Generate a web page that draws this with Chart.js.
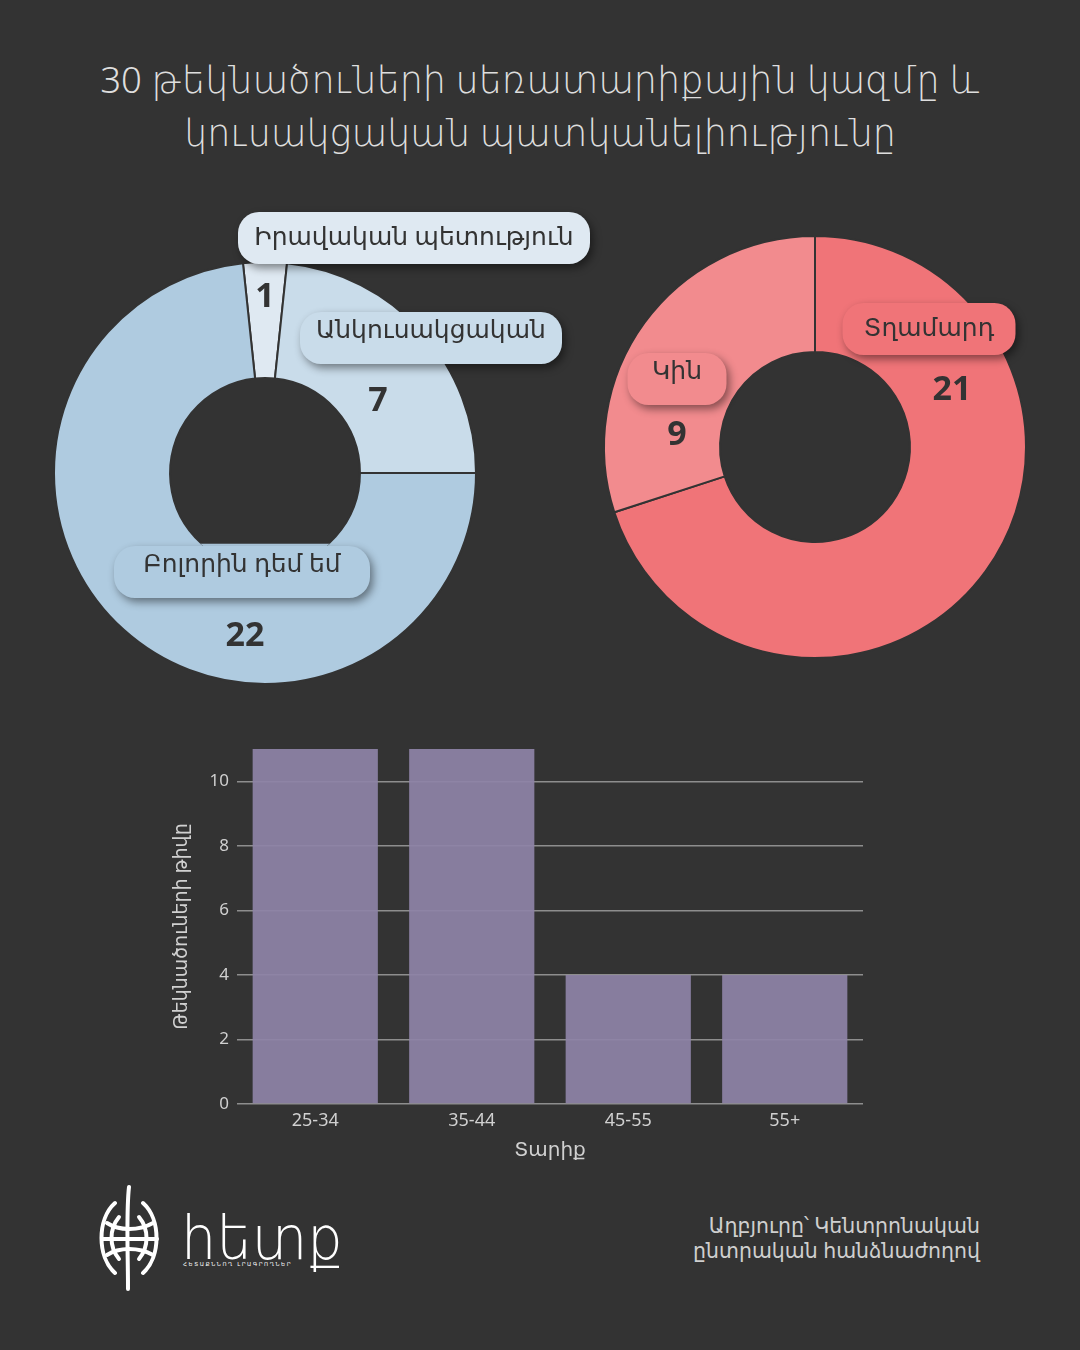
<!DOCTYPE html>
<html><head><meta charset="utf-8">
<script src="https://cdn.jsdelivr.net/npm/chart.js@4.4.1/dist/chart.umd.min.js"></script>
<style>
html,body{margin:0;padding:0;background:#333333;}
body{width:1080px;height:1350px;position:relative;overflow:hidden;font-family:"Noto Sans","DejaVu Sans",sans-serif;}
#title{position:absolute;left:0;top:53px;width:1080px;text-align:center;color:#dedede;font-size:36.5px;line-height:53px;font-weight:300;}
.wrap{position:absolute;}
#w1{left:30px;top:200px;width:590px;height:500px;}
#w2{left:590px;top:220px;width:470px;height:460px;}
#w3{left:160px;top:730px;width:720px;height:440px;}
#source{position:absolute;right:100px;top:1213px;text-align:right;color:#cfcfcf;font-size:20.5px;line-height:25px;}
#logo{position:absolute;left:95px;top:1183px;}
</style></head>
<body>
<div id="title">30 թեկնածուների սեռատարիքային կազմը և<br>կուսակցական պատկանելիությունը</div>
<div class="wrap" id="w1"><canvas id="c1"></canvas></div>
<div class="wrap" id="w2"><canvas id="c2"></canvas></div>
<div class="wrap" id="w3"><canvas id="c3"></canvas></div>
<svg id="logo" width="300" height="112" viewBox="0 0 300 112">
  <g fill="none" stroke="#ffffff" stroke-width="4" stroke-linecap="round">
    <path d="M34 4 C31 30 33 70 33 106"/>
    <path d="M20 20 C2 36 2 74 20 90"/>
    <path d="M48 20 C66 36 66 74 48 90"/>
    <path d="M24 34 C14 46 14 64 24 76"/>
    <path d="M44 34 C54 46 54 64 44 76"/>
    <path d="M8 56 L62 56"/>
    <path d="M12 40 C24 48 44 48 58 40"/>
    <path d="M12 72 C24 64 44 64 58 72"/>
  </g>
  <text x="86" y="76" fill="#ffffff" font-size="60" font-family="DejaVu Sans, Noto Sans" font-weight="300" textLength="162" lengthAdjust="spacingAndGlyphs">հետք</text>
  <text x="88" y="83" fill="#ffffff" font-size="5.5" letter-spacing="1.6" font-family="DejaVu Sans">ՀԵՏԱՔՆՆՈՂ ԼՐԱԳՐՈՂՆԵՐ</text>
</svg>
<div id="source">Աղբյուրը՝ Կենտրոնական<br>ընտրական հանձնաժողով</div>
<script>
// ---- data ----
const partyLabels = ["Իրավական պետություն", "Անկուսակցական", "Բոլորին դեմ եմ"];
const partyValues = [1, 7, 22];
const genderLabels = ["Տղամարդ", "Կին"];
const genderValues = [21, 9];
const ageLabels = ["25-34", "35-44", "45-55", "55+"];
const ageValues = [11, 11, 4, 4];
const yTicks = [0, 2, 4, 6, 8, 10];

// ---- styles ----
const partyColors = ["#dfe9f2", "#c9dcea", "#afcbe0"];
const genderColors = ["#f07478", "#f28b8e"];
const BG = "#333333";
const FONT = '"Noto Sans","DejaVu Sans",sans-serif';

function roundRect(ctx, x, y, w, h, r) {
  ctx.beginPath();
  ctx.moveTo(x + r, y);
  ctx.lineTo(x + w - r, y);
  ctx.arcTo(x + w, y, x + w, y + r, r);
  ctx.lineTo(x + w, y + h - r);
  ctx.arcTo(x + w, y + h, x + w - r, y + h, r);
  ctx.lineTo(x + r, y + h);
  ctx.arcTo(x, y + h, x, y + h - r, r);
  ctx.lineTo(x, y + r);
  ctx.arcTo(x, y, x + r, y, r);
  ctx.closePath();
}

const donutLabels = {
  id: 'donutLabels',
  afterDatasetsDraw(chart, args, opts) {
    const meta = chart.getDatasetMeta(0);
    const a0 = meta.data[0];
    const p = a0.getProps(['x', 'y', 'outerRadius', 'innerRadius'], true);
    const cx = p.x, cy = p.y, R = p.outerRadius, r = p.innerRadius;
    const k = R / 211;
    const ctx = chart.ctx;
    const ds = chart.data.datasets[0];
    ctx.save();
    if (opts.holeCut) {
      ctx.save();
      ctx.beginPath(); ctx.arc(cx, cy, r + 1, 0, Math.PI * 2); ctx.clip();
      ctx.fillStyle = ds.backgroundColor[opts.holeCut.index];
      ctx.fillRect(cx - r - 2, cy + opts.holeCut.frac * r, 2 * r + 4, r + 4);
      ctx.restore();
    }
    opts.place.forEach((pl, i) => {
      const text = chart.data.labels[i];
      ctx.font = '25px ' + FONT;
      const m = ctx.measureText(text);
      const asc = m.actualBoundingBoxAscent, desc = m.actualBoundingBoxDescent;
      const padV = 14;
      const w = pl.w;
      const h = asc + desc + 2 * padV;
      const bx = cx + pl.box[0] * k, by = cy + pl.box[1] * k;
      ctx.save();
      ctx.shadowColor = 'rgba(0,0,0,0.45)';
      ctx.shadowBlur = 8; ctx.shadowOffsetX = 3; ctx.shadowOffsetY = 4;
      ctx.fillStyle = ds.backgroundColor[i];
      roundRect(ctx, bx - w / 2, by - h / 2, w, h, 21);
      ctx.fill();
      ctx.restore();
      ctx.fillStyle = '#333333';
      ctx.textAlign = 'center';
      ctx.textBaseline = 'alphabetic';
      ctx.fillText(text, bx, by - h / 2 + padV + asc);
      ctx.font = 'bold 34px ' + FONT;
      ctx.textBaseline = 'middle';
      ctx.fillText(String(ds.data[i]), cx + pl.num[0] * k, cy + pl.num[1] * k);
    });
    ctx.restore();
  }
};

function donut(id, labels, values, colors, rotation, padding, place, holeCut) {
  new Chart(document.getElementById(id), {
    type: 'doughnut',
    data: { labels: labels, datasets: [{ data: values, backgroundColor: colors, borderColor: BG, borderWidth: 2, hoverOffset: 0 }] },
    options: {
      responsive: true, maintainAspectRatio: false, animation: false,
      rotation: rotation, cutout: '45%',
      layout: { padding: padding },
      plugins: { legend: { display: false }, tooltip: { enabled: false }, donutLabels: { place: place, holeCut: holeCut } }
    },
    plugins: [donutLabels]
  });
}

donut('c1', partyLabels, partyValues, partyColors, -6,
  { left: 23, top: 61, right: 143, bottom: 15 },
  [ { box: [149, -235], num: [0, -176], w: 352 },
    { box: [166, -135], num: [113, -72], w: 262 },
    { box: [-23, 99], num: [-20, 163], w: 256 } ],
  { index: 2, frac: 0.745 });

donut('c2', genderLabels, genderValues, genderColors, 0,
  { left: 13, top: 15, right: 33, bottom: 21 },
  [ { box: [114, -118], num: [137, -57], w: 173 },
    { box: [-138, -68], num: [-138, -12], w: 99 } ],
  null);

new Chart(document.getElementById('c3'), {
  type: 'bar',
  data: { labels: ageLabels, datasets: [{ data: ageValues, backgroundColor: 'rgba(142,131,167,0.93)', borderWidth: 0, barPercentage: 1.0, categoryPercentage: 0.8 }] },
  options: {
    responsive: true, maintainAspectRatio: false, animation: false,
    layout: { padding: { left: 10, top: 19, right: 17, bottom: 8 } },
    plugins: { legend: { display: false }, tooltip: { enabled: false } },
    scales: {
      x: {
        grid: { display: false, drawTicks: false }, border: { display: false },
        ticks: { color: '#d0d0d0', font: { size: 18, family: FONT }, padding: 6 },
        title: { display: true, text: 'Տարիք', color: '#d0d0d0', font: { size: 20, family: FONT }, padding: { top: 2, bottom: 0 } },
        afterFit(s) { s.height = 58; }
      },
      y: {
        min: 0, max: 11,
        afterBuildTicks(s) { s.ticks = yTicks.map(v => ({ value: v })); },
        grid: { color: '#8e8e8e', lineWidth: 1.5, drawTicks: false },
        border: { display: false },
        ticks: { color: '#d0d0d0', font: { size: 17, family: FONT }, padding: 8 },
        title: { display: true, text: 'Թեկնածուների թիվը', color: '#d0d0d0', font: { size: 19, family: FONT }, padding: { top: 0, bottom: 4 } },
        afterFit(s) { s.width = 67; }
      }
    }
  }
});
</script>
</body></html>
